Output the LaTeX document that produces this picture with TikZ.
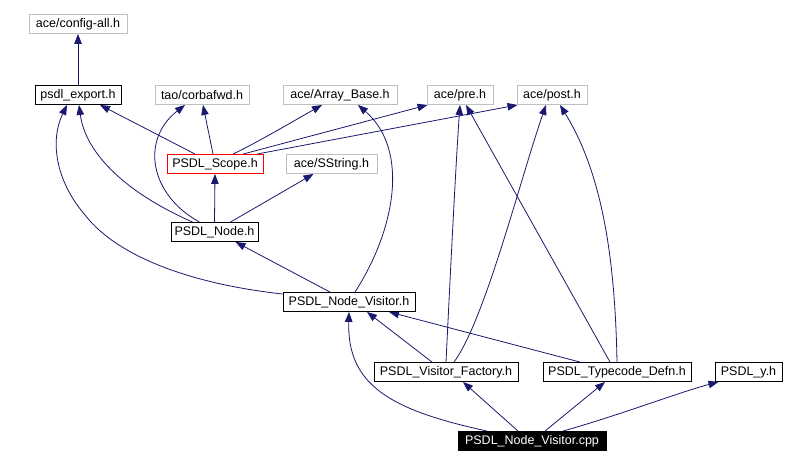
\documentclass[tikz,border=0pt]{standalone}
\usepackage{fontspec}
\setmainfont{Liberation Sans}
\usetikzlibrary{arrows.meta,backgrounds}
\definecolor{edgeblue}{HTML}{191970}
\definecolor{extgray}{HTML}{BFBFBF}
\begin{document}
\begin{tikzpicture}[x=1pt,y=-1pt,
  box/.style={draw=black,line width=0.9pt,fill=white,inner sep=0pt,minimum height=19pt,
    font=\fontsize{12.5}{14}\selectfont},
  extbox/.style={box,draw=extgray},
  redbox/.style={box,draw=red},
  curbox/.style={box,fill=black,text=white},
  dep/.style={draw=edgeblue,line width=0.8pt,-{Triangle[length=10pt,width=7.5pt]}}]
\useasboundingbox (0,0) rectangle (796,465);
% nodes
\node[extbox,minimum width=98pt]  (cfg)  at (78,24)    {ace/config-all.h};
\node[box,minimum width=86pt]     (exp)  at (78,95)    {psdl\_export.h};
\node[extbox,minimum width=94pt]  (tao)  at (202,95)   {tao/corbafwd.h};
\node[extbox,minimum width=114pt] (arr)  at (340,95)   {ace/Array\_Base.h};
\node[extbox,minimum width=66pt]  (pre)  at (460,95)   {ace/pre.h};
\node[extbox,minimum width=70pt]  (post) at (552,95)   {ace/post.h};
\node[redbox,minimum width=96pt]  (scope) at (215,164) {PSDL\_Scope.h};
\node[extbox,minimum width=91pt]  (sstr) at (331.5,164) {ace/SString.h};
\node[box,minimum width=87pt]     (node) at (214.5,232) {PSDL\_Node.h};
\node[box,minimum width=132pt]    (nvh)  at (349,302)  {PSDL\_Node\_Visitor.h};
\node[box,minimum width=144pt]    (fac)  at (446,372)  {PSDL\_Visitor\_Factory.h};
\node[box,minimum width=148pt]    (tcd)  at (617,372)  {PSDL\_Typecode\_Defn.h};
\node[box,minimum width=67pt]     (psy)  at (748.5,372) {PSDL\_y.h};
\node[curbox,minimum width=148pt] (cpp)  at (532,441)  {PSDL\_Node\_Visitor.cpp};
% edges
\begin{scope}[on background layer]
\fill[white] (0,0) rectangle (796,465);
\draw[dep] (exp.north) -- (cfg.south);
\draw[dep] ([xshift=-20pt]scope.north) -- ([xshift=22pt]exp.south);
\draw[dep] ([xshift=-2pt]scope.north) -- ([xshift=1pt]tao.south);
\draw[dep] ([xshift=18pt]scope.north) .. controls (258,142) and (292,122) .. ([xshift=-18pt]arr.south);
\draw[dep] ([xshift=28pt]scope.north) -- ([xshift=1pt]pre.south west);
\draw[dep] ([xshift=42pt]scope.north) -- ([xshift=1pt]post.south west);
\draw[dep] (node.north) -- (scope.south);
\draw[dep] ([xshift=16pt]node.north) -- ([xshift=-18pt]sstr.south);
\draw[dep] ([xshift=-22pt]node.north) .. controls (120,190) and (85,150) .. ([xshift=1pt]exp.south);
\draw[dep] ([xshift=-15pt]node.north) .. controls (150,195) and (140,140) .. ([xshift=-17pt]tao.south);
\draw[dep] ([xshift=-19pt]nvh.north) -- ([xshift=21pt]node.south);
\draw[dep] ([yshift=8pt]nvh.west) .. controls (200,285) and (120,260) .. (85,215)
  .. controls (55,180) and (50,140) .. ([xshift=-11pt]exp.south);
\draw[dep] ([xshift=6pt]nvh.north) .. controls (395,230) and (410,150) .. ([xshift=18pt]arr.south);
\draw[dep] ([xshift=-14pt]fac.north) -- ([xshift=18pt]nvh.south);
\draw[dep] (fac.north) .. controls (450,280) and (456,160) .. (pre.south);
\draw[dep] ([xshift=8pt]fac.north) .. controls (485,320) and (520,180) .. ([xshift=-6pt]post.south);
\draw[dep] ([xshift=-37pt]tcd.north) -- ([xshift=40pt]nvh.south);
\draw[dep] ([xshift=-7pt]tcd.north) -- ([xshift=6pt]pre.south);
\draw[dep] (tcd.north) .. controls (615,250) and (600,170) .. ([xshift=8pt]post.south);
\draw[dep] ([xshift=-14pt]cpp.north) -- ([xshift=17pt]fac.south);
\draw[dep] ([xshift=13pt]cpp.north) -- ([xshift=-12pt]tcd.south);
\draw[dep] ([xshift=31pt]cpp.north) .. controls (620,415) and (680,392) .. ([xshift=-30pt]psy.south);
\draw[dep] ([xshift=-45pt]cpp.north) .. controls (390,410) and (347,385) .. (nvh.south);
\end{scope}
\end{tikzpicture}
\end{document}
